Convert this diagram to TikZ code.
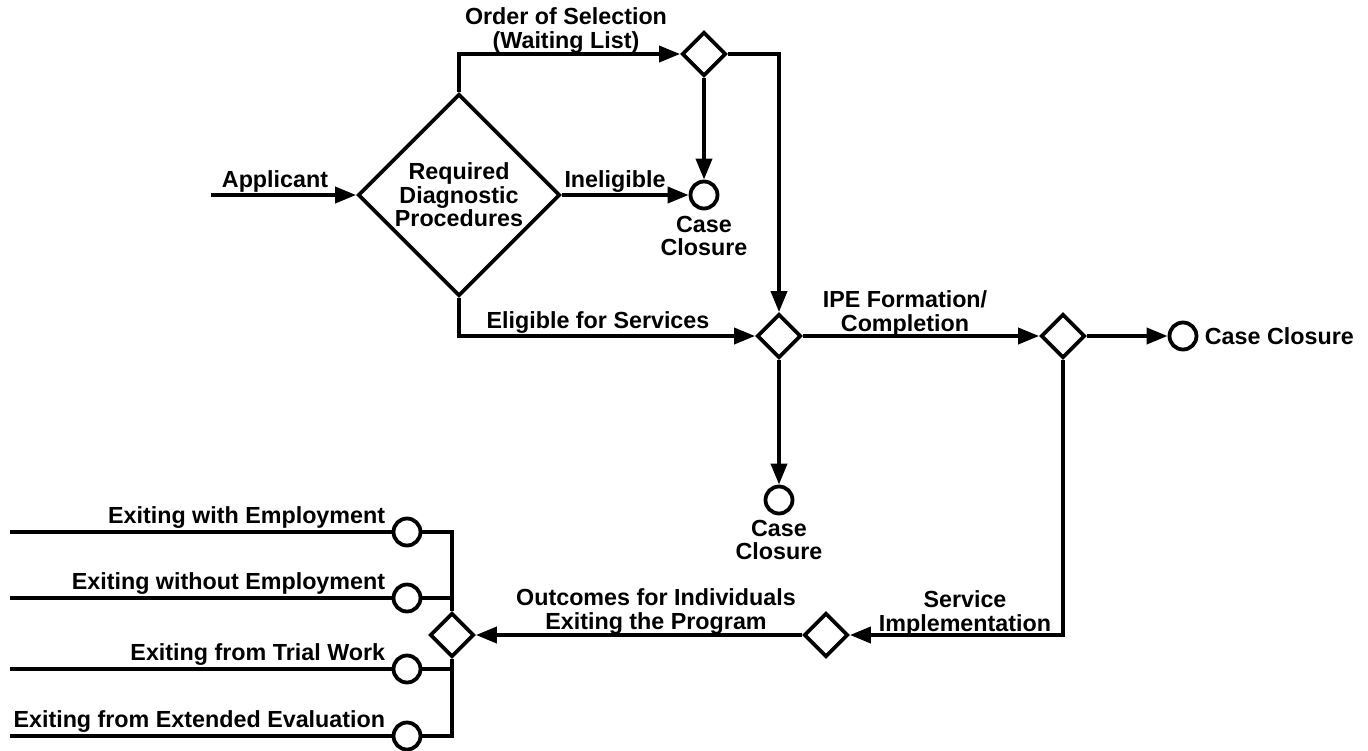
\documentclass[tikz,border=0pt]{standalone}
\usepackage{fontspec}
\setmainfont{Liberation Sans}
\usetikzlibrary{shapes.geometric,arrows.meta}
\begin{document}
\begin{tikzpicture}[x=1pt,y=-1pt,
  font=\fontsize{23.3}{23.5}\selectfont\bfseries,
  line width=3.8pt,
  line join=miter,
  flow/.style={-{Triangle[length=21pt,width=16pt]}},
  gate/.style={draw,diamond,aspect=1,inner sep=0pt,minimum size=44pt},
  bigdec/.style={draw,diamond,aspect=1,inner sep=0pt,minimum size=202pt,align=center},
  endcircle/.style={draw,circle,inner sep=0pt,minimum size=27pt},
  lbl/.style={inner sep=0pt,align=center}]
\useasboundingbox (0,0) rectangle (1368,750);

% decision points
\node[bigdec] (rdp) at (459,195) {Required\\Diagnostic\\Procedures};
\node[gate] (g1) at (704,54) {};
\node[gate] (g2) at (779,336) {};
\node[gate] (g3) at (1063,336) {};
\node[gate] (g4) at (826,635) {};
\node[gate] (g5) at (452,635) {};

% case closures
\node[endcircle] (c1) at (704,195) {};
\node[endcircle] (c2) at (779,500) {};
\node[endcircle] (c3) at (1183,336) {};

% exit outcomes
\node[endcircle] (e1) at (407,532) {};
\node[endcircle] (e2) at (407,598) {};
\node[endcircle] (e3) at (407,669) {};
\node[endcircle] (e4) at (407,736) {};

% free line ends
\coordinate (appStart) at (211,195);
\coordinate (x1) at (10,532);
\coordinate (x2) at (10,598);
\coordinate (x3) at (10,669);
\coordinate (x4) at (10,736);

% connectors
\draw[flow] (appStart) -- (rdp.west);
\draw[flow] (rdp.east) -- (c1.west);
\draw[flow] (rdp.north) |- (g1.west);
\draw[flow] (g1.south) -- (c1.north);
\draw[flow] (g1.east) -| (g2.north);
\draw[flow] (rdp.south) |- (g2.west);
\draw[flow] (g2.east) -- (g3.west);
\draw[flow] (g2.south) -- (c2.north);
\draw[flow] (g3.east) -- (c3.west);
\draw[flow] (g3.south) |- (g4.east);
\draw[flow] (g4.west) -- (g5.east);
\draw (g5.north) |- (e1.east);
\draw (g5.north) |- (e2.east);
\draw (g5.south) |- (e3.east);
\draw (g5.south) |- (e4.east);
\draw (e1.west) -- (x1);
\draw (e2.west) -- (x2);
\draw (e3.west) -- (x3);
\draw (e4.west) -- (x4);

% labels
\node[lbl,anchor=base] (tApp) at (275,187) {Applicant};
\node[lbl,anchor=base] (tInel) at (615,187) {Ineligible};
\node[lbl,anchor=north] (tCC1) at (704,214) {Case\\Closure};
\node[lbl,anchor=north] (tOos) at (566,6) {Order of Selection\\(Waiting List)};
\node[lbl,anchor=base] (tElig) at (598,328) {Eligible for Services};
\node[lbl,anchor=north] (tIpe) at (905,289) {IPE Formation/\\Completion};
\node[lbl,anchor=west] (tCC3) at (1203,336) {Case Closure};
\node[lbl,anchor=north] (tCC2) at (779,518) {Case\\Closure};
\node[lbl,anchor=north] (tSvc) at (965,589) {Service\\Implementation};
\node[lbl,anchor=north] (tOut) at (656,587) {Outcomes for Individuals\\Exiting the Program};
\node[lbl,anchor=base east] (tX1) at (387,523) {Exiting with Employment};
\node[lbl,anchor=base east] (tX2) at (387,589) {Exiting without Employment};
\node[lbl,anchor=base east] (tX3) at (387,660) {Exiting from Trial Work};
\node[lbl,anchor=base east] (tX4) at (387,727) {Exiting from Extended Evaluation};
\end{tikzpicture}
\end{document}
